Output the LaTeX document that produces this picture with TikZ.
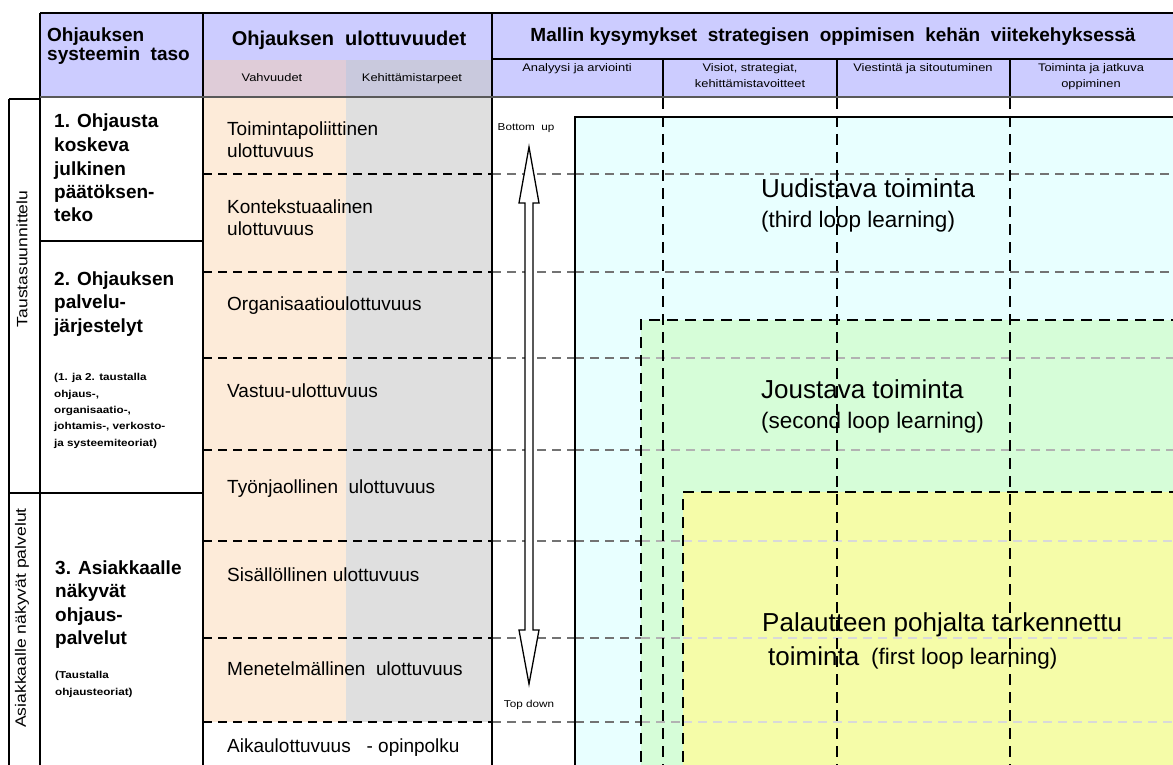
\documentclass[tikz,border=0pt]{standalone}
\usepackage{fontspec}
\setmainfont{Liberation Sans}
\newfontfamily\widefont[FakeStretch=1.17]{Liberation Sans}
\definecolor{hdrc}{HTML}{CCCCFF}
\definecolor{vahc}{HTML}{DFCCD8}
\definecolor{kehc}{HTML}{C9C9DD}
\definecolor{peachc}{HTML}{FDEBD9}
\definecolor{grayc}{HTML}{DFDFDF}
\definecolor{cyanc}{HTML}{E8FFFF}
\definecolor{greenc}{HTML}{D6FDD8}
\definecolor{yellowc}{HTML}{F5FCA8}
\tikzset{
  frame/.style={line width=1.8pt, draw=black},
  hdash/.style={line width=1.6pt, dash pattern=on 9pt off 6pt},
  vdash/.style={line width=1.8pt, dash pattern=on 11pt off 7pt, draw=black},
  lvl/.style={font=\bfseries\fontsize{19}{23.5}\selectfont, anchor=base west, align=left, inner sep=0pt},
  smalltxt/.style={font=\widefont\bfseries\fontsize{10}{16.3}\selectfont, anchor=base west, align=left, inner sep=0pt},
  dimtxt/.style={font=\fontsize{19}{22}\selectfont, anchor=base west, align=left, inner sep=0pt},
  tinytxt/.style={font=\widefont\fontsize{11}{15.5}\selectfont, anchor=base, align=center, inner sep=0pt},
  hdrtxt/.style={font=\bfseries\fontsize{19}{19}\selectfont, inner sep=0pt},
  bigtxt/.style={font=\fontsize{26}{30}\selectfont, anchor=base west, inner sep=0pt},
  subtxt/.style={font=\fontsize{22.5}{26}\selectfont, anchor=base west, inner sep=0pt},
  sidetxt/.style={font=\widefont\fontsize{15}{18}\selectfont, rotate=90, inner sep=0pt},
}
\begin{document}
\begin{tikzpicture}[x=1pt,y=-1pt]
\useasboundingbox (0,0) rectangle (1173,765);
\begin{scope}
\clip (0,0) rectangle (1173,765);
% fills
\fill[hdrc] (40,13) rectangle (1180,98);
\fill[vahc] (203,60) rectangle (346,98);
\fill[kehc] (346,60) rectangle (492,98);
\fill[peachc] (203,98) rectangle (346,722);
\fill[grayc] (346,98) rectangle (492,722);
\fill[cyanc] (575,117) rectangle (1180,780);
\fill[greenc] (641,320) rectangle (1180,780);
\fill[yellowc] (683,492) rectangle (1180,780);
% horizontal dashed lines
\foreach \yy in {174,272,358,450,541,638,722}{
  \draw[hdash, black] (203,\yy) -- (492,\yy);
  \draw[hdash, black!55] (492,\yy) -- (575,\yy);
}
\foreach \yy in {174,272}{\draw[hdash, black!55] (575,\yy) -- (1180,\yy);}
\foreach \yy in {358,450}{
  \draw[hdash, black!55] (575,\yy) -- (641,\yy);
  \draw[hdash, black!30] (641,\yy) -- (1180,\yy);}
\foreach \yy in {541,638,722}{
  \draw[hdash, black!55] (575,\yy) -- (641,\yy);
  \draw[hdash, black!30] (641,\yy) -- (683,\yy);
  \draw[hdash, black!15] (683,\yy) -- (1180,\yy);}
% box borders
\draw[line width=1.5pt] (575,780) -- (575,117) -- (1180,117);
\draw[vdash] (641,780) -- (641,320) -- (1180,320);
\draw[vdash] (683,780) -- (683,492) -- (1180,492);
% vertical dashed column lines
\foreach \xx in {663,837,1010}{\draw[vdash] (\xx,98) -- (\xx,770);}
% frame
\draw[frame] (40,13) -- (1180,13);
\draw[frame] (40,13) -- (40,770);
\draw[frame] (203,13) -- (203,770);
\draw[frame] (492,13) -- (492,770);
\draw[frame] (492,59) -- (1180,59);
\foreach \xx in {663,837,1010}{\draw[frame] (\xx,59) -- (\xx,98);}
\draw[line width=2pt, black!65] (40,97.5) -- (1180,97.5);
\draw[frame] (9,99) -- (40,99);
\draw[frame] (9,99) -- (9,770);
\draw[frame] (9,493) -- (203,493);
\draw[frame] (40,241) -- (203,241);
\end{scope}
% double arrow
\draw[fill=white, line width=1.3pt] (529,147) -- (539,203) -- (533,203) -- (533,630) -- (539,630) -- (529,684) -- (519,630) -- (525,630) -- (525,203) -- (519,203) -- cycle;
% header texts (multi-line nodes: base = last line)
\node[hdrtxt, anchor=base west, align=left] (h1) at (47,61) {Ohjauksen\\systeemin~ taso};
\node[hdrtxt, anchor=base, font=\bfseries\fontsize{20}{20}\selectfont] (h2) at (349,46) {Ohjauksen~ ulottuvuudet};
\node[hdrtxt, anchor=base] (h3) at (833,42) {Mallin kysymykset~ strategisen~ oppimisen~ kehän~ viitekehyksessä};
\node[tinytxt] (s1) at (272,82) {Vahvuudet};
\node[tinytxt] (s2) at (412,82) {Kehittämistarpeet};
\node[tinytxt] (r1) at (577,72) {Analyysi ja arviointi};
\node[tinytxt] (r2) at (750,87.5) {Visiot, strategiat,\\kehittämistavoitteet};
\node[tinytxt] (r3) at (923,72) {Viestintä ja sitoutuminen};
\node[tinytxt] (r4) at (1091,87.5) {Toiminta ja jatkuva\\oppiminen};
% side labels
\node[sidetxt] (side1) at (22,259) {Taustasuunnittelu};
\node[sidetxt] (side2) at (22,618) {Asiakkaalle näkyvät palvelut};
% level texts
\node[lvl] (l1) at (54,222) {1. Ohjausta\\koskeva\\julkinen\\päätöksen-\\teko};
\node[lvl] (l2) at (54,332) {2. Ohjauksen\\palvelu-\\järjestelyt};
\node[smalltxt] (l2s) at (54,446) {(1. ja 2. taustalla\\ohjaus-,\\organisaatio-,\\johtamis-, verkosto-\\ja systeemiteoriat)};
\node[lvl] (l3) at (55,644.5) {3. Asiakkaalle\\näkyvät\\ohjaus-\\palvelut};
\node[smalltxt] (l3s) at (55,695) {(Taustalla\\ohjausteoriat)};
% dimension texts
\node[dimtxt] (d1) at (227,158) {Toimintapoliittinen\\ulottuvuus};
\node[dimtxt] (d2) at (227,235) {Kontekstuaalinen\\ulottuvuus};
\node[dimtxt] (d3) at (227,310) {Organisaatioulottuvuus};
\node[dimtxt] (d4) at (227,397) {Vastuu-ulottuvuus};
\node[dimtxt] (d5) at (227,493) {Työnjaollinen~ ulottuvuus};
\node[dimtxt] (d6) at (227,581) {Sisällöllinen ulottuvuus};
\node[dimtxt] (d7) at (227,675) {Menetelmällinen~ ulottuvuus};
\node[dimtxt] (d8) at (227,752) {Aikaulottuvuus~~ - opinpolku};
% arrow labels
\node[tinytxt, font=\widefont\fontsize{10}{12}\selectfont] (bu) at (526,131) {Bottom~ up};
\node[tinytxt, font=\widefont\fontsize{10}{12}\selectfont] (td) at (529,707) {Top down};
% loop texts
\node[bigtxt] (u1) at (761,197) {Uudistava toiminta};
\node[subtxt] (u2) at (761,227) {(third loop learning)};
\node[bigtxt] (j1) at (761,398) {Joustava toiminta};
\node[subtxt] (j2) at (761,428) {(second loop learning)};
\node[bigtxt] (p1) at (762,631) {Palautteen pohjalta tarkennettu};
\node[bigtxt] (p2) at (768,665) {toiminta};
\node[subtxt] (p3) at (871,664) {(first loop learning)};
\end{tikzpicture}
\end{document}
